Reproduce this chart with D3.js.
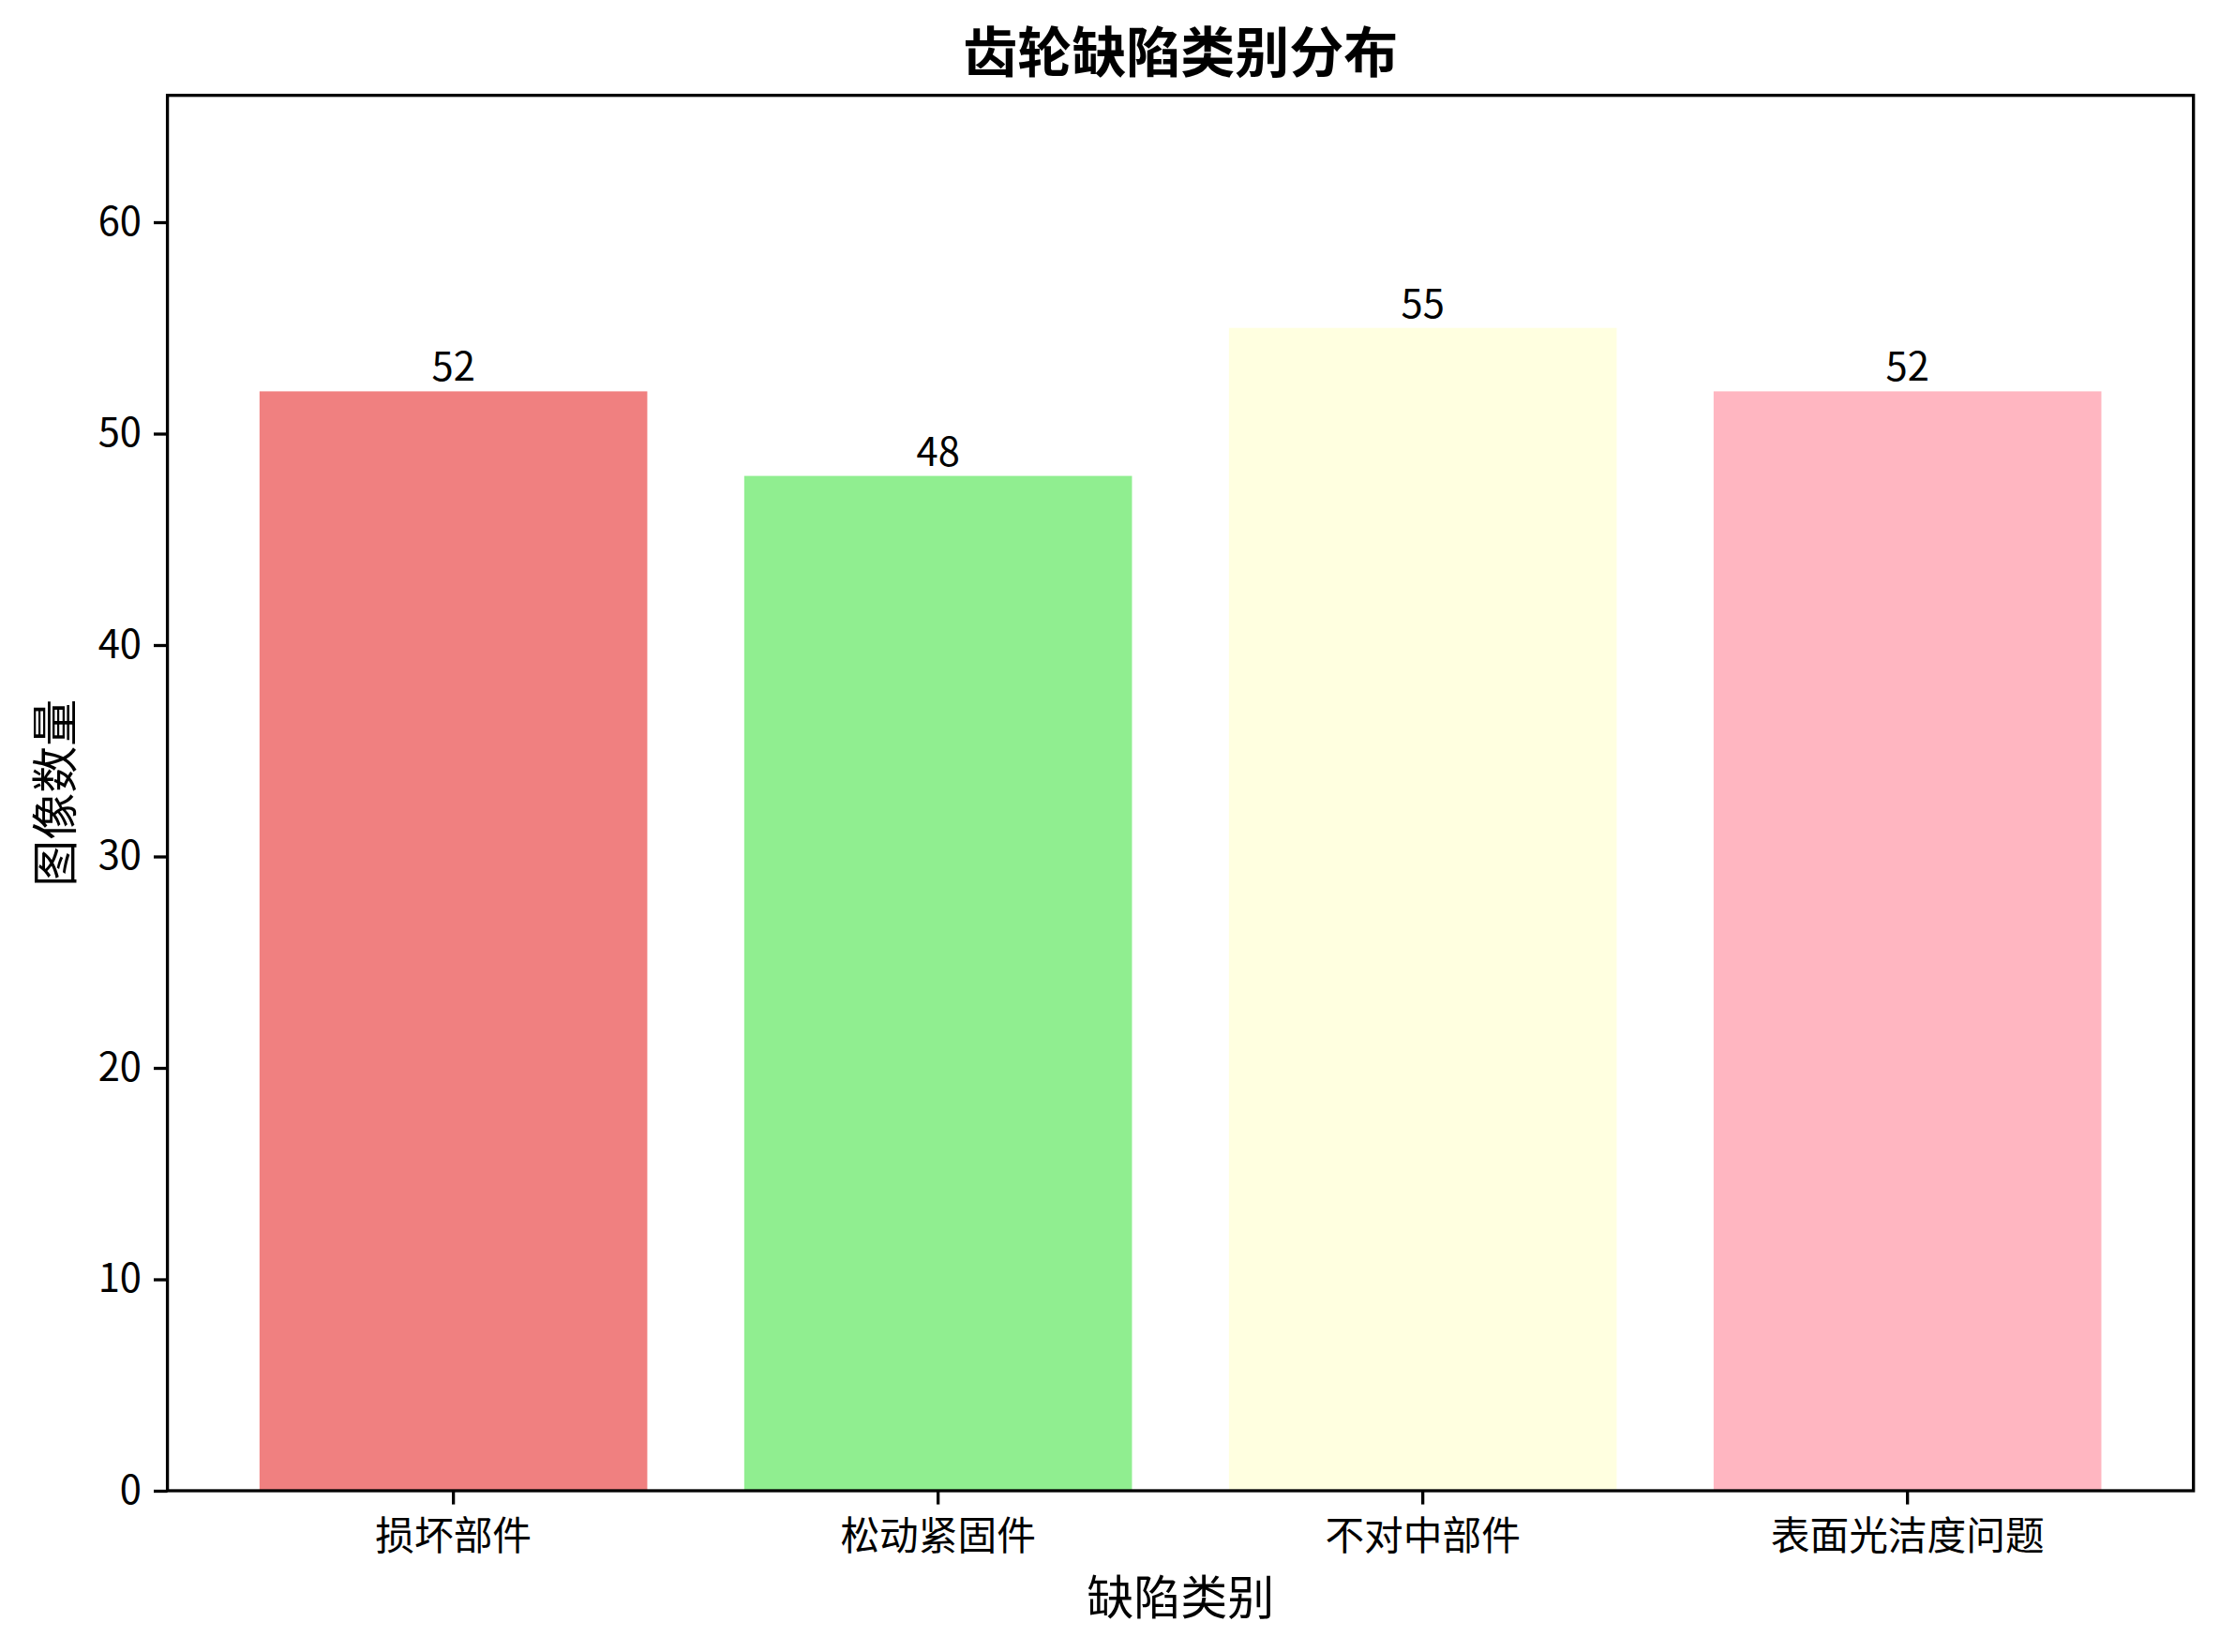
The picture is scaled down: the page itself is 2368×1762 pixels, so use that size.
<!DOCTYPE html>
<html lang="zh">
<head>
  <meta charset="UTF-8">
  <title>齿轮缺陷类别分布</title>
  <style>
    body {
      margin: 0;
      background: #fff;
      font-family: "Noto Sans CJK SC", "Noto Sans", sans-serif;
    }
  </style>
</head>
<body>
  <svg class="bar-chart"></svg>
  <script src="https://cdn.jsdelivr.net/npm/d3@7/dist/d3.min.js"></script>
  <script>
    var categories = ["损坏部件", "松动紧固件", "不对中部件", "表面光洁度问题"];
    var counts = [52, 48, 55, 52];
    var barColors = ["#F08080", "#90EE90", "#FFFFE0", "#FFB6C1"];
    var yTicks = [0, 10, 20, 30, 40, 50, 60];

    var w = 2368;
    var h = 1762;
    var margin = {top: 101.7, right: 28.3, bottom: 172, left: 178.6};
    var innerW = w - margin.left - margin.right;
    var innerH = h - margin.top - margin.bottom;
    var font = '"Noto Sans CJK SC", "Noto Sans", sans-serif';

    var data = categories.map((c, i) => ({name: c, value: counts[i], color: barColors[i]}));

    var svg = d3.select(".bar-chart")
      .attr("width", w)
      .attr("height", h);

    var g = svg.append("g")
      .attr("transform", `translate(${margin.left},${margin.top})`);

    var x = d3.scaleBand()
      .domain(categories)
      .range([0, innerW])
      .paddingInner(0.2)
      .paddingOuter(0.19);

    var y = d3.scaleLinear()
      .domain([0, 66])
      .range([innerH, 0]);

    // bars
    g.selectAll("rect.bar")
      .data(data)
      .enter()
      .append("rect")
      .attr("class", "bar")
      .attr("x", d => x(d.name))
      .attr("y", d => y(d.value))
      .attr("width", x.bandwidth())
      .attr("height", d => innerH - y(d.value))
      .attr("fill", d => d.color);

    // value labels
    g.selectAll("text.val")
      .data(data)
      .enter()
      .append("text")
      .attr("class", "val")
      .text(d => d.value)
      .attr("x", d => x(d.name) + x.bandwidth() / 2)
      .attr("y", d => y(d.value) - 11)
      .attr("text-anchor", "middle")
      .attr("font-size", "41.7px")
      .attr("font-family", font)
      .attr("fill", "#000");

    // axes
    var xAxis = g.append("g")
      .attr("transform", `translate(0,${innerH})`)
      .call(d3.axisBottom(x).tickSize(14.6).tickPadding(11));

    var yAxis = g.append("g")
      .call(d3.axisLeft(y).tickValues(yTicks).tickSize(14.6).tickPadding(13));

    [xAxis, yAxis].forEach(a => {
      a.select(".domain").remove();
      a.selectAll(".tick line").attr("stroke", "#000").attr("stroke-width", 3.3);
      a.selectAll(".tick text")
        .attr("font-size", "41.7px")
        .attr("font-family", font)
        .attr("fill", "#000");
    });
    xAxis.selectAll(".tick text").attr("dy", "0.9em");

    // frame
    g.append("rect")
      .attr("x", 0)
      .attr("y", 0)
      .attr("width", innerW)
      .attr("height", innerH)
      .attr("fill", "none")
      .attr("stroke", "#000")
      .attr("stroke-width", 3.3);

    // title and axis labels
    svg.append("text")
      .text("齿轮缺陷类别分布")
      .attr("x", margin.left + innerW / 2)
      .attr("y", 52)
      .attr("dominant-baseline", "central")
      .attr("text-anchor", "middle")
      .attr("font-size", "58px")
      .attr("font-weight", "bold")
      .attr("font-family", font);

    svg.append("text")
      .text("缺陷类别")
      .attr("x", margin.left + innerW / 2)
      .attr("y", 1700)
      .attr("dominant-baseline", "central")
      .attr("text-anchor", "middle")
      .attr("font-size", "50px")
      .attr("font-family", font);

    svg.append("text")
      .text("图像数量")
      .attr("transform", `translate(55,${margin.top + innerH / 2}) rotate(-90)`)
      .attr("dominant-baseline", "central")
      .attr("text-anchor", "middle")
      .attr("font-size", "50px")
      .attr("font-family", font);
  </script>
</body>
</html>
